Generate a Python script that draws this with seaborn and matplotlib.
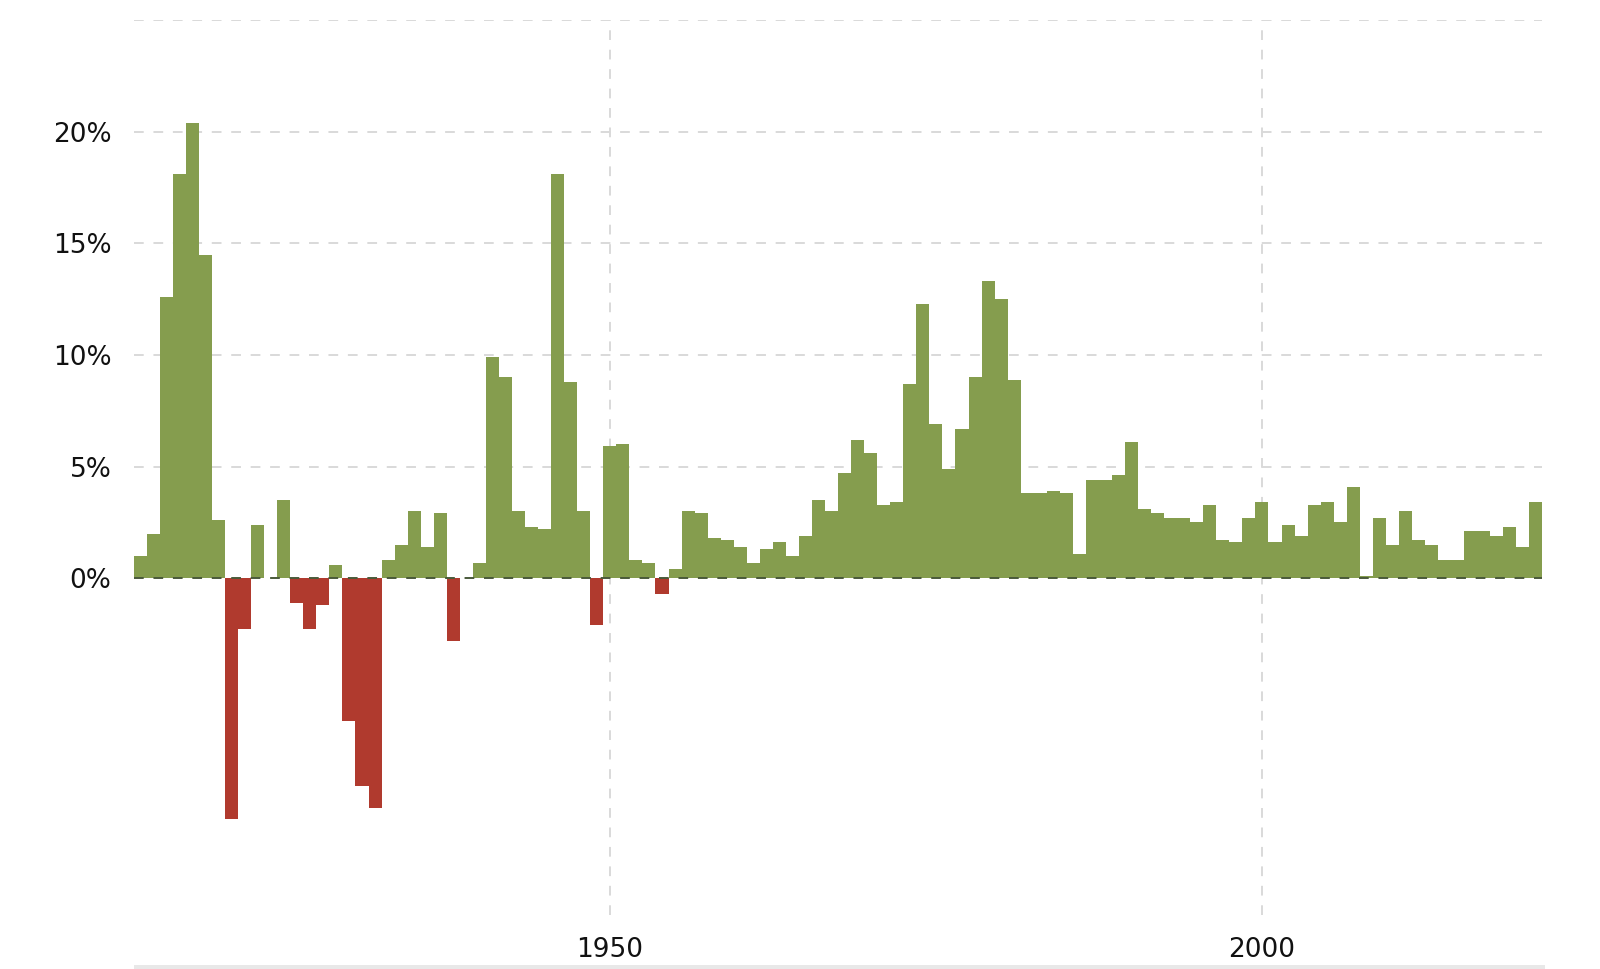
import numpy as np
import pandas as pd
import matplotlib
matplotlib.use("Agg")
import matplotlib.pyplot as plt
import seaborn as sns

# US annual inflation rate (Dec-Dec)
years = list(range(1914, 2022))
inflation = [
    1.0, 2.0, 12.6, 18.1, 20.4, 14.5, 2.6, -10.8, -2.3, 2.4,      # 1914-1923
    0.0, 3.5, -1.1, -2.3, -1.2, 0.6, -6.4, -9.3, -10.3, 0.8,      # 1924-1933
    1.5, 3.0, 1.4, 2.9, -2.8, 0.0, 0.7, 9.9, 9.0, 3.0,            # 1934-1943
    2.3, 2.2, 18.1, 8.8, 3.0, -2.1, 5.9, 6.0, 0.8, 0.7,           # 1944-1953
    -0.7, 0.4, 3.0, 2.9, 1.8, 1.7, 1.4, 0.7, 1.3, 1.6,            # 1954-1963
    1.0, 1.9, 3.5, 3.0, 4.7, 6.2, 5.6, 3.3, 3.4, 8.7,             # 1964-1973
    12.3, 6.9, 4.9, 6.7, 9.0, 13.3, 12.5, 8.9, 3.8, 3.8,          # 1974-1983
    3.9, 3.8, 1.1, 4.4, 4.4, 4.6, 6.1, 3.1, 2.9, 2.7,             # 1984-1993
    2.7, 2.5, 3.3, 1.7, 1.6, 2.7, 3.4, 1.6, 2.4, 1.9,             # 1994-2003
    3.3, 3.4, 2.5, 4.1, 0.1, 2.7, 1.5, 3.0, 1.7, 1.5,             # 2004-2013
    0.8, 0.8, 2.1, 2.1, 1.9, 2.3, 1.4, 3.4,                       # 2014-2021
]
x_ticks = [1950, 2000]
y_ticks = [0, 5, 10, 15, 20, 25]
y_tick_labels = ["0%", "5%", "10%", "15%", "20%", ""]

df = pd.DataFrame({"year": years, "rate": inflation})
df["sign"] = np.where(df["rate"] < 0, "neg", "pos")

sns.set_style("white")
plt.rcParams["font.family"] = ["DejaVu Sans"]

fig = plt.figure(figsize=(16, 9.69), dpi=100)
ax = fig.add_axes([0.0836, 0.0557, 0.8804, 0.9233])

sns.barplot(data=df, x="year", y="rate", hue="sign",
            palette={"pos": "#859d4e", "neg": "#b03a2e"}, saturation=1,
            native_scale=True, width=1.0, dodge=False, linewidth=0,
            legend=False, ax=ax, zorder=2)

ax.set_xlim(1913.5, 2021.5)
ax.set_ylim(-15.1, 25)

# grid: horizontal only above zero, vertical at labelled years
for y in y_ticks[1:]:
    ax.axhline(y, color="#d9d9d9", lw=1.4, ls=(0, (5, 5)), zorder=1)
for x in x_ticks:
    ax.axvline(x, color="#d9d9d9", lw=1.4, ls=(0, (5, 5)), zorder=1)
ax.axhline(0, color="#4a5a3a", lw=1.4, ls=(0, (5, 5)), zorder=3)

ax.set_yticks(y_ticks)
ax.set_yticklabels(y_tick_labels)
ax.set_xticks(x_ticks)
ax.set_xticklabels([str(x) for x in x_ticks])
ax.tick_params(axis="y", length=0, pad=16, labelsize=19, colors="#111111")
ax.tick_params(axis="x", length=0, pad=16, labelsize=19, colors="#111111")
ax.set_xlabel("")
ax.set_ylabel("")
for s in ax.spines.values():
    s.set_visible(False)

# light navigator band at the bottom
fig.add_artist(plt.Rectangle((0.0836, 0.0), 0.882, 0.0045,
                             transform=fig.transFigure,
                             color="#e8e8e8", lw=0))

fig.savefig("out.png", dpi=100, facecolor="white")
